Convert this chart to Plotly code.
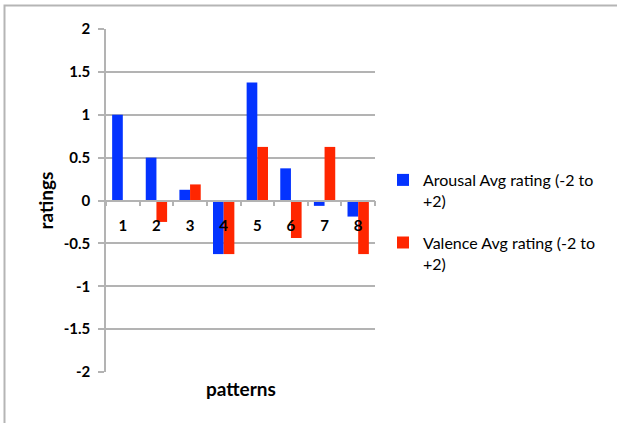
import plotly.graph_objects as go

categories = ["1", "2", "3", "4", "5", "6", "7", "8"]
arousal = [1.0, 0.5, 0.125, -0.625, 1.375, 0.375, -0.0625, -0.1875]
valence = [0.0, -0.25, 0.1875, -0.625, 0.625, -0.4375, 0.625, -0.625]
series_names = ["Arousal Avg rating (-2 to<br>+2)", "Valence Avg rating (-2 to<br>+2)"]
ytick_vals = [2, 1.5, 1, 0.5, 0, -0.5, -1, -1.5, -2]
ytick_text = ["2", "1.5", "1", "0.5", "0", "-0.5", "-1", "-1.5", "-2"]

BLUE = "#0433ff"
RED = "#ff2600"
GRID = "#b3b3b3"
FONT = "Lato"

W, H = 617, 423
ML, MR, MT, MB = 106, 242, 29, 51
PW = W - ML - MR
PH = H - MT - MB


def px_x(x):
    return (x - ML) / PW


def px_y(y):
    return (H - MB - y) / PH


fig = go.Figure()
fig.add_trace(go.Bar(x=categories, y=arousal, name=series_names[0],
                     marker=dict(color=BLUE, line=dict(width=0)), legendgroup="a"))
fig.add_trace(go.Bar(x=categories, y=valence, name=series_names[1],
                     marker=dict(color=RED, line=dict(width=0)), legendgroup="v"))

fig.update_layout(
    width=W, height=H,
    margin=dict(l=ML, r=MR, t=MT, b=MB),
    paper_bgcolor="white", plot_bgcolor="white",
    barmode="group", bargap=0.365, bargroupgap=0,
    font=dict(family=FONT, color="black"),
    legend=dict(x=px_x(383), y=px_y(163), xanchor="left", yanchor="top",
                valign="top", traceorder="grouped", tracegroupgap=18,
                font=dict(family=FONT, size=16, color="black"),
                bgcolor="rgba(0,0,0,0)"),
    xaxis=dict(type="category", range=[-0.5, 7.5], anchor="free", position=0.5,
               showline=True, linecolor=GRID, linewidth=1.5,
               ticks="outside", tickson="boundaries", ticklen=5, tickcolor=GRID, tickwidth=1.5,
               showgrid=False, zeroline=False, ticklabelstandoff=12,
               tickfont=dict(family=FONT, size=15, color="black", weight="bold")),
    yaxis=dict(range=[-2, 2], tickvals=ytick_vals, ticktext=ytick_text,
               showline=True, linecolor=GRID, linewidth=1.5,
               ticks="outside", ticklen=6, tickcolor=GRID, tickwidth=1.5,
               showgrid=True, gridcolor=GRID, gridwidth=1.5, zeroline=False,
               ticklabelstandoff=5,
               tickfont=dict(family=FONT, size=15, color="black", weight="bold")),
    annotations=[
        dict(text="<b>ratings</b>", xref="paper", yref="paper", x=px_x(45), y=0.5,
             textangle=-90, showarrow=False, font=dict(family=FONT, size=19, color="black"),
             xanchor="center", yanchor="middle"),
        dict(text="<b>patterns</b>", xref="paper", yref="paper", x=0.5, y=px_y(388),
             showarrow=False, font=dict(family=FONT, size=19, color="black"),
             xanchor="center", yanchor="middle"),
    ],
    shapes=[
        dict(type="path", xref="paper", yref="paper",
             path="M {:.5f},{:.5f} L {:.5f},{:.5f} L {:.5f},{:.5f}".format(
                 px_x(617), px_y(5.5), px_x(4.5), px_y(5.5), px_x(4.5), px_y(423)),
             line=dict(color="#b5b5b5", width=2)),
    ],
)

fig.write_html("out.html",
               config={"displayModeBar": False},
               post_script="document.body.style.margin='0';document.body.style.overflow='hidden';")
